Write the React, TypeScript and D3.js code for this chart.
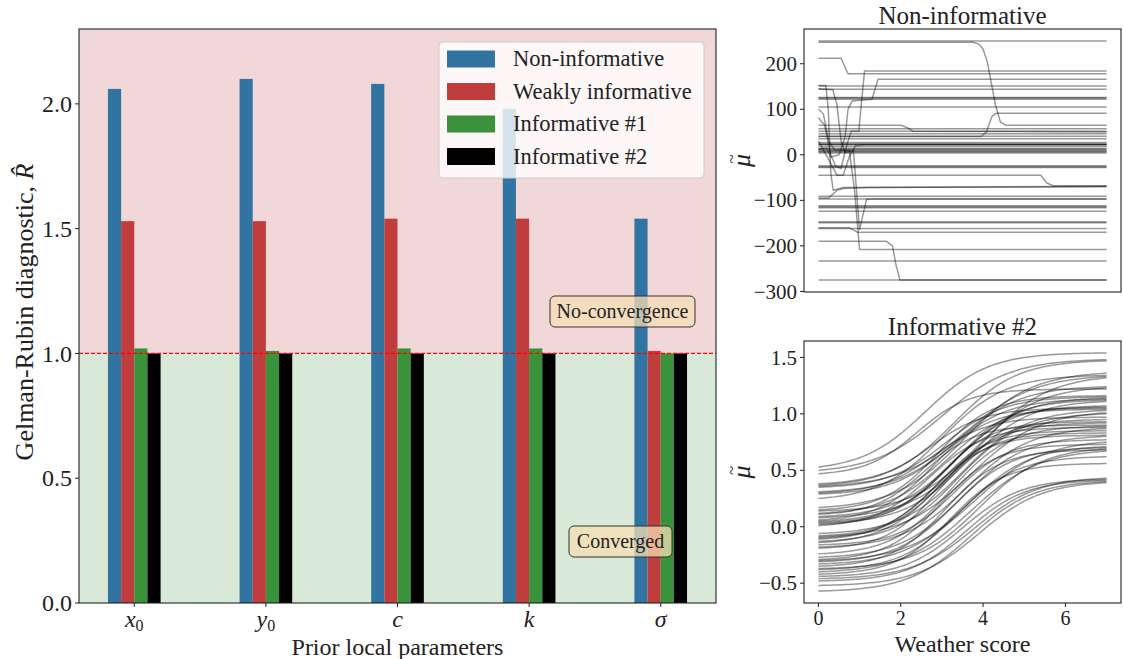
import React from "react";
import * as d3 from "d3";

// ---------------- Data ----------------
const categories = ["x", "y", "c", "k", "σ"];
const categorySubscripts = ["0", "0", "", "", ""];
const seriesNames = ["Non-informative", "Weakly informative", "Informative #1", "Informative #2"];
const seriesColors = ["#3274a1", "#c03d3e", "#3a923a", "#000000"];
const nonInformative = [2.06, 2.1, 2.08, 1.98, 1.54];
const weaklyInformative = [1.53, 1.53, 1.54, 1.54, 1.01];
const informative1 = [1.02, 1.01, 1.02, 1.02, 1.0];
const informative2 = [1.0, 1.0, 1.0, 1.0, 1.0];
const rhatTicks = [0, 0.5, 1.0, 1.5, 2.0];
const rhatMax = 2.3;
const threshold = 1.0;

// Non-informative panel: flat traces (level values) and traces with transitions [x, mu]
const nonInfoFlatLevels = [
  250, 151, 144, 126, 125, 122, 105, 57, 52, 46, 41, 35, 27, 24, 23, 22, 18, 14, 12, 10, 8, 6, 4,
  -24, -26, -28, -91, -97, -112, -114, -116, -124, -147, -149, -162, -233, -275,
];
const nonInfoTraces: [number, number][][] = [
  [[0, 247], [3.75, 247], [3.9, 243], [4.0, 232], [4.1, 205], [4.3, 110], [4.42, 72], [4.55, 65], [7, 65]],
  [[0, 212], [0.55, 212], [0.72, 178], [7, 178]],
  [[0, -190], [1.65, -190], [1.8, -200], [1.88, -240], [1.98, -275], [7, -275]],
  [[0, 65], [2.0, 65], [2.15, 60], [2.3, 52], [7, 50]],
  [[0, -45], [5.4, -45], [5.55, -62], [5.7, -68], [7, -68]],
  [[0, 40], [3.95, 40], [4.08, 50], [4.22, 85], [4.32, 91], [7, 91]],
  [[0, 152], [0.18, 152], [0.24, 100], [0.3, -40], [0.36, -78], [0.6, -72], [7, -70]],
  [[0, 145], [0.35, 143], [0.45, 110], [0.55, 30], [0.65, 5], [0.85, 10], [1.0, -165], [1.17, -97], [7, -97]],
  [[0, 100], [0.12, 90], [0.25, 30], [0.4, 10], [0.75, 10], [0.88, -80], [1.0, -208], [7, -208]],
  [[0, 82], [0.15, 65], [0.3, 0], [0.42, -25], [0.55, -30], [0.7, 25], [0.8, 52], [0.98, 52], [1.12, 184], [7, 184]],
  [[0, 12], [0.2, 15], [0.3, -5], [0.5, 0], [0.65, 40], [0.72, 100], [0.82, 118], [1.3, 122], [1.45, 166], [7, 166]],
  [[0, -160], [0.75, -160], [0.95, -170], [7, -170]],
  [[0, -95], [0.25, -95], [0.45, -78], [0.6, -74], [1.2, -72], [7, -69]],
  [[0, 30], [0.25, -10], [0.45, -45], [0.6, -45], [0.75, -5], [0.9, 20], [1.1, 22], [7, 22]],
];
const muTicks = [-300, -200, -100, 0, 100, 200];

// Informative #2 panel: logistic curves (start level, end level, midpoint, rate)
const inf2Start = [
  0.53, 0.5, 0.47, 0.38, 0.37, 0.36, 0.35, 0.31, 0.3, 0.29, 0.25, 0.17, 0.15, 0.14, 0.12, 0.11, 0.09,
  0.08, 0.06, 0.05, 0.04, 0.03, 0.02, 0.01, -0.06, -0.08, -0.09, -0.1, -0.11, -0.13, -0.14, -0.16,
  -0.18, -0.19, -0.24, -0.27, -0.29, -0.3, -0.31, -0.33, -0.35, -0.37, -0.38, -0.4, -0.42, -0.44,
  -0.46, -0.48, -0.52, -0.57,
];
const inf2End = [
  1.54, 1.48, 1.22, 1.47, 1.05, 1.33, 1.15, 1.24, 0.97, 1.13, 1.34, 1.36, 1.16, 1.23, 1.06, 0.9, 1.14,
  1.32, 1.04, 1.12, 0.93, 1.11, 1.07, 0.88, 1.03, 0.85, 1.01, 0.95, 0.81, 1.0, 0.92, 0.77, 0.87, 0.83,
  0.89, 0.8, 0.73, 0.75, 0.7, 0.71, 0.68, 0.69, 0.62, 0.67, 0.56, 0.42, 0.43, 0.41, 0.39, 0.4,
];
const inf2Mid = [
  2.6, 3.0, 2.4, 3.3, 2.7, 3.6, 3.1, 3.4, 2.8, 3.2, 3.0, 3.5, 2.9, 3.8, 3.1, 2.6, 3.4, 3.9, 2.8, 3.3,
  3.0, 3.6, 3.2, 2.7, 3.5, 2.9, 3.7, 3.1, 2.8, 3.4, 3.0, 3.3, 3.6, 2.9, 3.2, 3.5, 3.0, 3.8, 3.3, 3.6,
  3.1, 3.9, 3.4, 3.7, 3.2, 3.5, 3.8, 3.6, 3.9, 3.7,
];
const inf2Rate = [
  1.3, 1.2, 1.6, 1.3, 1.5, 1.2, 1.4, 1.3, 1.5, 1.4, 1.3, 1.2, 1.5, 1.3, 1.4, 1.6, 1.3, 1.2, 1.5, 1.4,
  1.6, 1.3, 1.4, 1.5, 1.3, 1.6, 1.2, 1.4, 1.5, 1.3, 1.4, 1.5, 1.3, 1.6, 1.4, 1.3, 1.5, 1.2, 1.4, 1.3,
  1.5, 1.3, 1.4, 1.2, 1.5, 1.4, 1.3, 1.4, 1.3, 1.3,
];
const weatherMax = 7;
const weatherTicks = [0, 2, 4, 6];
const muTildeTicks = [-0.5, 0.0, 0.5, 1.0, 1.5];

// ---------------- Layout ----------------
const W = 1123;
const H = 659;
const FONT = "'Liberation Serif', 'DejaVu Serif', serif";
const TXT = "#222";
const L = { x0: 79, x1: 716, y0: 29, y1: 603 };
const RT = { x0: 804, x1: 1121, y0: 29, y1: 292 };
const RB = { x0: 804, x1: 1121, y0: 341, y1: 603 };

const fmt1 = (v: number) => (v < 0 ? "\u2212" : "") + Math.abs(v).toFixed(1);
const fmt0 = (v: number) => (v < 0 ? "\u2212" : "") + Math.abs(v).toFixed(0);

function padDomain(lo: number, hi: number): [number, number] {
  const p = (hi - lo) * 0.05;
  return [lo - p, hi + p];
}

function MuTilde({ x, y }: { x: number; y: number }) {
  return (
    <g transform={`translate(${x}, ${y}) rotate(-90)`}>
      <text x={0} y={0} textAnchor="middle" fontSize={26} fontStyle="italic" fill={TXT}>
        {"\u03bc"}
      </text>
      <text x={1.5} y={-13} textAnchor="middle" fontSize={17} fill={TXT}>
        {"~"}
      </text>
    </g>
  );
}

export default function App() {
  const series = [nonInformative, weaklyInformative, informative1, informative2];
  const n = categories.length;
  const barW = 0.1;
  const xL = d3.scaleLinear().domain([-0.42, n - 1 + 0.42]).range([L.x0, L.x1]);
  const yL = d3.scaleLinear().domain([0, rhatMax]).range([L.y1, L.y0]);
  const bwPx = xL(barW) - xL(0);

  // right panels
  const xR = d3.scaleLinear().domain([-0.35, weatherMax + 0.35]).range([RT.x0, RT.x1]);
  const allMu = [...nonInfoFlatLevels, ...nonInfoTraces.flatMap((t) => t.map((p) => p[1]))];
  const yRT = d3
    .scaleLinear()
    .domain(padDomain(d3.min(allMu)!, d3.max(allMu)!))
    .range([RT.y1, RT.y0]);
  const yRB = d3
    .scaleLinear()
    .domain(padDomain(d3.min(inf2Start)!, d3.max(inf2End)!))
    .range([RB.y1, RB.y0]);

  const lineT = d3
    .line<[number, number]>()
    .x((d) => xR(d[0]))
    .y((d) => yRT(d[1]));
  const lineB = d3
    .line<[number, number]>()
    .x((d) => xR(d[0]))
    .y((d) => yRB(d[1]));

  const xs = d3.range(0, weatherMax + 0.0001, 0.05);
  const sig = (z: number) => 1 / (1 + Math.exp(-z));
  const curves = inf2Start.map((s, i) => {
    const e = inf2End[i];
    const m = inf2Mid[i];
    const k = inf2Rate[i];
    const a = sig(k * (0 - m));
    const b = sig(k * (weatherMax - m));
    return xs.map((x) => [x, s + ((e - s) * (sig(k * (x - m)) - a)) / (b - a)] as [number, number]);
  });

  const lineStyle = { fill: "none", stroke: "#000", strokeOpacity: 0.4, strokeWidth: 1.5 };

  return (
    <div style={{ position: "absolute", left: 0, top: 0 }}>
      <svg width={W} height={H} viewBox={`0 0 ${W} ${H}`} style={{ display: "block", background: "#fff" }} fontFamily={FONT}>
        <defs>
          <clipPath id="clipL">
            <rect x={L.x0} y={L.y0} width={L.x1 - L.x0} height={L.y1 - L.y0} />
          </clipPath>
          <clipPath id="clipRT">
            <rect x={RT.x0} y={RT.y0} width={RT.x1 - RT.x0} height={RT.y1 - RT.y0} />
          </clipPath>
          <clipPath id="clipRB">
            <rect x={RB.x0} y={RB.y0} width={RB.x1 - RB.x0} height={RB.y1 - RB.y0} />
          </clipPath>
        </defs>

        {/* ---------- Left panel ---------- */}
        <rect x={L.x0} y={yL(threshold)} width={L.x1 - L.x0} height={yL(0) - yL(threshold)} fill="#d8ead7" />
        <rect x={L.x0} y={yL(rhatMax)} width={L.x1 - L.x0} height={yL(threshold) - yL(rhatMax)} fill="#f2d7d9" />

        <g clipPath="url(#clipL)">
          {series.map((vals, j) =>
            vals.map((v, i) => {
              const cx = xL(i + (j - 1.5) * barW);
              return (
                <rect
                  key={`b${j}-${i}`}
                  x={cx - bwPx / 2}
                  y={yL(v)}
                  width={bwPx}
                  height={yL(0) - yL(v)}
                  fill={seriesColors[j]}
                />
              );
            })
          )}
        </g>

        <line
          x1={L.x0}
          x2={L.x1}
          y1={yL(threshold)}
          y2={yL(threshold)}
          stroke="#ff0000"
          strokeWidth={1.3}
          strokeDasharray="4 2"
        />

        {/* annotations */}
        <g>
          <rect x={550} y={296} width={145} height={31} rx={5} fill="#f5deb3" fillOpacity={0.75} stroke="#333" strokeWidth={1} />
          <text x={622.5} y={318} textAnchor="middle" fontSize={20} fill={TXT}>
            No-convergence
          </text>
          <rect x={569} y={526} width={103} height={31} rx={5} fill="#f5deb3" fillOpacity={0.75} stroke="#333" strokeWidth={1} />
          <text x={620.5} y={548} textAnchor="middle" fontSize={20} fill={TXT}>
            Converged
          </text>
        </g>

        {/* legend */}
        <g>
          <rect x={439} y={42} width={265} height={136} rx={4} fill="#ffffff" fillOpacity={0.8} stroke="#cccccc" strokeWidth={1} />
          {seriesNames.map((name, j) => {
            const cy = 59 + j * 32.5;
            return (
              <g key={name}>
                <rect x={447} y={cy - 8.5} width={48} height={17} fill={seriesColors[j]} />
                <text x={513} y={cy + 7} fontSize={22.5} fill={TXT}>
                  {name}
                </text>
              </g>
            );
          })}
        </g>

        <rect x={L.x0} y={L.y0} width={L.x1 - L.x0} height={L.y1 - L.y0} fill="none" stroke="#222" strokeWidth={1.1} />

        {/* y axis */}
        {rhatTicks.map((t) => (
          <g key={`yt${t}`}>
            <line x1={L.x0 - 4} x2={L.x0} y1={yL(t)} y2={yL(t)} stroke="#222" strokeWidth={1} />
            <text x={L.x0 - 7} y={yL(t)} dy="0.34em" textAnchor="end" fontSize={24} fill={TXT}>
              {fmt1(t)}
            </text>
          </g>
        ))}
        {/* x axis */}
        {categories.map((c, i) => (
          <g key={`xt${i}`}>
            <line x1={xL(i)} x2={xL(i)} y1={L.y1} y2={L.y1 + 4} stroke="#222" strokeWidth={1} />
            <text x={xL(i)} y={627} textAnchor="middle" fontSize={24} fill={TXT}>
              <tspan fontStyle="italic">{c}</tspan>
              {categorySubscripts[i] ? (
                <tspan fontSize={16} dy={4}>
                  {categorySubscripts[i]}
                </tspan>
              ) : null}
            </text>
          </g>
        ))}
        <text x={(L.x0 + L.x1) / 2} y={655} textAnchor="middle" fontSize={24} fill={TXT}>
          Prior local parameters
        </text>
        <text transform={`translate(33, 312) rotate(-90)`} textAnchor="middle" fontSize={26} fill={TXT}>
          Gelman-Rubin diagnostic,{" "}
          <tspan fontStyle="italic">{"R\u0302"}</tspan>
        </text>

        {/* ---------- Right top ---------- */}
        <text x={(RT.x0 + RT.x1) / 2} y={24} textAnchor="middle" fontSize={25} fill={TXT}>
          Non-informative
        </text>
        <g clipPath="url(#clipRT)">
          {nonInfoFlatLevels.map((v, i) => (
            <path
              key={`fl${i}`}
              d={lineT([
                [0, v],
                [weatherMax, v],
              ])!}
              {...lineStyle}
            />
          ))}
          {nonInfoTraces.map((t, i) => (
            <path key={`tr${i}`} d={lineT(t)!} {...lineStyle} />
          ))}
        </g>
        <rect x={RT.x0} y={RT.y0} width={RT.x1 - RT.x0} height={RT.y1 - RT.y0} fill="none" stroke="#222" strokeWidth={1.1} />
        {muTicks.map((t) => (
          <g key={`mt${t}`}>
            <line x1={RT.x0 - 4} x2={RT.x0} y1={yRT(t)} y2={yRT(t)} stroke="#222" strokeWidth={1} />
            <text x={RT.x0 - 7} y={yRT(t)} dy="0.34em" textAnchor="end" fontSize={21} fill={TXT}>
              {fmt0(t)}
            </text>
          </g>
        ))}
        <MuTilde x={750} y={(RT.y0 + RT.y1) / 2} />

        {/* ---------- Right bottom ---------- */}
        <text x={(RB.x0 + RB.x1) / 2} y={335} textAnchor="middle" fontSize={25} fill={TXT}>
          Informative #2
        </text>
        <g clipPath="url(#clipRB)">
          {curves.map((c, i) => (
            <path key={`cv${i}`} d={lineB(c)!} {...lineStyle} />
          ))}
        </g>
        <rect x={RB.x0} y={RB.y0} width={RB.x1 - RB.x0} height={RB.y1 - RB.y0} fill="none" stroke="#222" strokeWidth={1.1} />
        {muTildeTicks.map((t) => (
          <g key={`mtt${t}`}>
            <line x1={RB.x0 - 4} x2={RB.x0} y1={yRB(t)} y2={yRB(t)} stroke="#222" strokeWidth={1} />
            <text x={RB.x0 - 7} y={yRB(t)} dy="0.34em" textAnchor="end" fontSize={21} fill={TXT}>
              {fmt1(t)}
            </text>
          </g>
        ))}
        {weatherTicks.map((t) => (
          <g key={`wt${t}`}>
            <line x1={xR(t)} x2={xR(t)} y1={RB.y1} y2={RB.y1 + 4} stroke="#222" strokeWidth={1} />
            <text x={xR(t)} y={625} textAnchor="middle" fontSize={20} fill={TXT}>
              {t}
            </text>
          </g>
        ))}
        <text x={(RB.x0 + RB.x1) / 2} y={652} textAnchor="middle" fontSize={24} fill={TXT}>
          Weather score
        </text>
        <MuTilde x={750} y={(RB.y0 + RB.y1) / 2} />
      </svg>
    </div>
  );
}
